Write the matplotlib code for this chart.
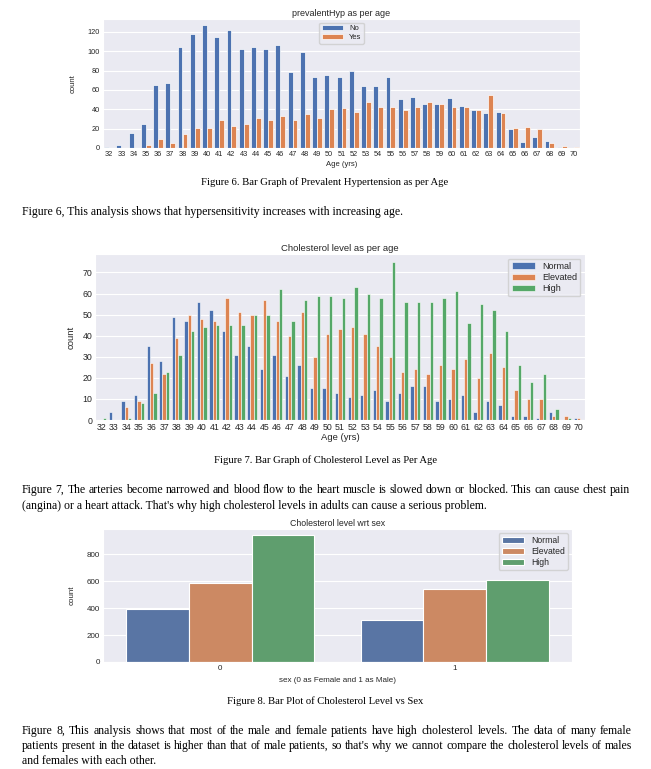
import numpy as np
import matplotlib
matplotlib.use("Agg")
import matplotlib.pyplot as plt
import seaborn as sns

ages = list(range(32, 71))

# prevalentHyp counts per age
hyp_no = [1, 3, 16, 25, 65, 67, 104, 118, 127, 115, 122, 102, 104, 102, 107, 79, 99, 73, 75, 73,
          80, 64, 64, 73, 51, 53, 45, 45, 52, 43, 39, 36, 37, 20, 6, 11, 7, 1, 0]
hyp_yes = [0, 0, 0, 3, 9, 5, 14, 21, 21, 29, 23, 25, 31, 29, 33, 29, 35, 31, 40, 41,
           37, 48, 42, 42, 39, 42, 48, 46, 42, 42, 39, 55, 36, 21, 22, 20, 5, 2, 1]
hyp_labels = ["No", "Yes"]

# cholesterol level counts per age
chol_normal = [0, 4, 9, 12, 35, 28, 49, 47, 56, 52, 42, 31, 35, 24, 31, 21, 26, 15, 15, 13,
               11, 12, 14, 9, 13, 16, 16, 9, 10, 12, 4, 9, 7, 2, 2, 1, 4, 0, 1]
chol_elevated = [0, 0, 6, 9, 27, 22, 39, 50, 48, 47, 58, 51, 50, 57, 47, 40, 51, 30, 41, 43,
                 44, 41, 35, 30, 23, 24, 22, 26, 24, 29, 20, 32, 25, 14, 10, 10, 2, 2, 1]
chol_high = [1, 0, 1, 8, 13, 23, 31, 42, 44, 45, 45, 45, 50, 50, 62, 47, 57, 59, 59, 58,
             63, 60, 58, 75, 56, 56, 56, 58, 61, 46, 55, 52, 42, 26, 18, 22, 5, 1, 0]
chol_labels = ["Normal", "Elevated", "High"]

# cholesterol level by sex
sexes = ["0", "1"]
sex_normal = [393, 312]
sex_elevated = [587, 540]
sex_high = [941, 609]

sns.set_style("darkgrid")
plt.rcParams["font.family"] = ["Liberation Sans", "DejaVu Sans"]
plt.rcParams["text.color"] = ".15"
plt.rcParams["axes.labelcolor"] = ".15"
plt.rcParams["xtick.color"] = ".15"
plt.rcParams["ytick.color"] = ".15"

deep = sns.color_palette("deep")
muted = sns.color_palette("deep", desat=0.75)

fig = plt.figure(figsize=(6.51, 7.69), dpi=100)
W, H = 651, 769


def add_axes_px(x0, y0, x1, y1):
    return fig.add_axes([x0 / W, 1 - y1 / H, (x1 - x0) / W, (y1 - y0) / H])


def grouped_bars(ax, cats, series, labels, colors, lw=0.5):
    x = np.arange(len(cats))
    n = len(series)
    w = 0.8 / n
    for i, vals in enumerate(series):
        ax.bar(x - 0.4 + w * (i + 0.5), vals, width=w, color=colors[i],
               edgecolor="white", linewidth=lw, label=labels[i])
    ax.set_xticks(x)
    ax.set_xticklabels(cats)
    ax.set_xlim(-0.5, len(cats) - 0.5)
    ax.xaxis.grid(False)
    ax.tick_params(length=0, pad=2)


# Figure 6
ax1 = add_axes_px(103, 19, 580, 148)
grouped_bars(ax1, ages, [hyp_no, hyp_yes], hyp_labels, deep)
ax1.set_ylim(0, 133.4)
ax1.set_yticks([0, 20, 40, 60, 80, 100, 120])
ax1.tick_params(labelsize=5.3)
ax1.set_title("prevalentHyp as per age", fontsize=6.5, pad=2)
ax1.set_xlabel("Age (yrs)", fontsize=5.5, labelpad=2)
ax1.set_ylabel("count", fontsize=5.5, labelpad=8)
ax1.legend(loc="upper center", fontsize=5.5, handlelength=2.8, borderpad=0.3,
           labelspacing=0.2, framealpha=0.8)

# Figure 7
ax2 = add_axes_px(95, 254, 585, 420)
grouped_bars(ax2, ages, [chol_normal, chol_elevated, chol_high], chol_labels, deep, lw=0.4)
ax2.set_ylim(0, 78.75)
ax2.set_yticks([0, 10, 20, 30, 40, 50, 60, 70])
ax2.tick_params(labelsize=6.3)
ax2.set_title("Cholesterol level as per age", fontsize=6.8, pad=2)
ax2.set_xlabel("Age (yrs)", fontsize=6.8, labelpad=1)
ax2.set_ylabel("count", fontsize=6.8, labelpad=5)
ax2.legend(loc="upper right", fontsize=6.5, handlelength=2.6, borderpad=0.35,
           labelspacing=0.25, framealpha=0.8)

# Figure 8
ax3 = add_axes_px(103, 529, 572, 662)
grouped_bars(ax3, sexes, [sex_normal, sex_elevated, sex_high], chol_labels, muted, lw=0.8)
ax3.set_ylim(0, 987)
ax3.set_yticks([0, 200, 400, 600, 800])
ax3.tick_params(labelsize=5.8)
ax3.set_title("Cholesterol level wrt sex", fontsize=6.3, pad=2)
ax3.set_xlabel("sex (0 as Female and 1 as Male)", fontsize=5.8, labelpad=4)
ax3.set_ylabel("count", fontsize=5.8, labelpad=8)
ax3.legend(loc="upper right", fontsize=6.2, handlelength=2.6, borderpad=0.35,
           labelspacing=0.2, framealpha=0.8)

# document text
SERIF = ["Liberation Serif", "DejaVu Serif"]
renderer = fig.canvas.get_renderer()


def caption(text, y):
    fig.text(325 / W, 1 - y / H, text, ha="center", va="center",
             fontsize=7.7, family=SERIF, color="black")


def line(text, y, x0=22, x1=None):
    if x1 is None:
        fig.text(x0 / W, 1 - y / H, text, ha="left", va="center",
                 fontsize=8.5, family=SERIF, color="black")
        return
    # justified line: spread the words from x0 to x1
    words = text.split()
    items = []
    for wd in words:
        t = fig.text(0, 1 - y / H, wd, ha="left", va="center",
                     fontsize=8.5, family=SERIF, color="black")
        items.append((t, t.get_window_extent(renderer).width))
    total = sum(w for _, w in items)
    gap = (x1 - x0 - total) / (len(items) - 1)
    x = x0
    for t, w in items:
        t.set_x(x / W)
        x += w + gap


caption("Figure 6. Bar Graph of Prevalent Hypertension as per Age", 182)
line("Figure 6, This analysis shows that hypersensitivity increases with increasing age.", 212)

caption("Figure 7. Bar Graph of Cholesterol Level as Per Age", 460)
line("Figure 7, The arteries become narrowed and blood flow to the heart muscle is slowed down "
     "or blocked. This can cause chest pain", 490, x1=630)
line("(angina) or a heart attack. That's why high cholesterol levels in adults can cause a "
     "serious problem.", 506)

caption("Figure 8. Bar Plot of Cholesterol Level vs Sex", 701)
line("Figure 8, This analysis shows that most of the male and female patients have high "
     "cholesterol levels. The data of many female", 731, x1=632)
line("patients present in the dataset is higher than that of male patients, so that's why we "
     "cannot compare the cholesterol levels of males", 746, x1=632)
line("and females with each other.", 761)

fig.savefig("out.png", dpi=100, facecolor="white")
